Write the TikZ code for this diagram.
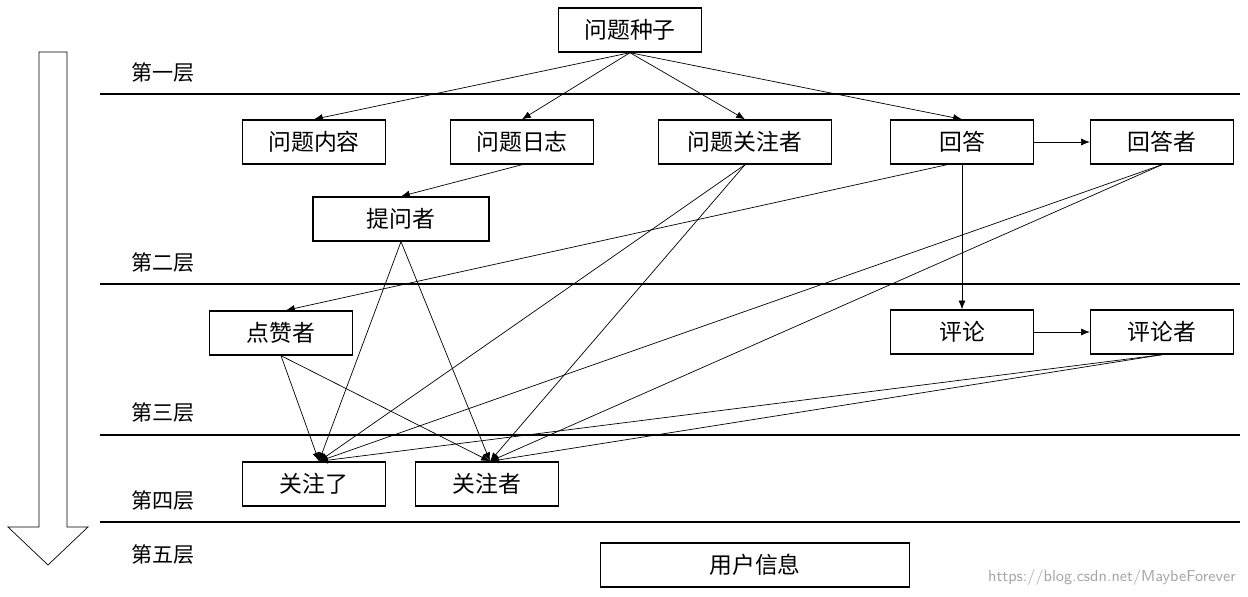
\documentclass[tikz,border=0pt]{standalone}
\usepackage{fontspec}
\newfontfamily\cjk{Noto Sans CJK SC}
\usetikzlibrary{arrows.meta}
\begin{document}
\begin{tikzpicture}[x=0.02cm,y=-0.02cm,
 box/.style={draw,thick,minimum width=2.86cm,minimum height=0.88cm,inner sep=0pt,font=\cjk\fontsize{13}{15}\selectfont},
 lab/.style={font=\cjk\fontsize{12}{14}\selectfont},
 ed/.style={-{Latex[length=5pt,width=4pt]},thin},
 lay/.style={thick}]
\useasboundingbox (0,0) rectangle (1248,596);
\node[box] (seed) at (630,30) {问题种子};
\node[box] (nr) at (314,142) {问题内容};
\node[box] (rz) at (522,142) {问题日志};
\node[box,minimum width=3.46cm] (gz) at (745,142) {问题关注者};
\node[box] (hd) at (962,142) {回答};
\node[box] (hdz) at (1162,142) {回答者};
\node[box,minimum width=3.52cm] (twz) at (401,219) {提问者};
\node[box] (dzz) at (281,333) {点赞者};
\node[box] (pl) at (962,332) {评论};
\node[box] (plz) at (1162,332) {评论者};
\node[box] (gzl) at (314,484) {关注了};
\node[box] (gzz) at (487,484) {关注者};
\node[box,minimum width=6.18cm] (yh) at (755,565) {用户信息};
\foreach \y in {94,284,435,522} \draw[lay] (100,\y) -- (1240,\y);
\node[lab] (l1) at (163,73) {第一层};
\node[lab] (l2) at (163,263) {第二层};
\node[lab] (l3) at (163,413) {第三层};
\node[lab] (l4) at (163,501) {第四层};
\node[lab] (l5) at (163,555) {第五层};
\draw[thin] (39,52) -- (67,52) -- (67,527) -- (88,527) -- (48,565) -- (8,527) -- (39,527) -- cycle;
\node[font=\sffamily\fontsize{9}{10}\selectfont,text=black!35] (wm) at (1112,578) {https://blog.csdn.net/MaybeForever};
\foreach \t in {nr,rz,gz,hd} \draw[ed] (seed.south) -- (\t.north);
\draw[ed] (hd) -- (hdz);
\draw[ed] (rz.south) -- (twz.north);
\draw[ed] ([xshift=-0.3cm]hd.south) -- ([xshift=0.1cm]dzz.north);
\draw[ed] (hd.south) -- (pl.north);
\draw[ed] (pl) -- (plz);
\foreach \s in {twz,gz,hdz,dzz,plz} {
 \draw[ed] (\s.south) -- ([xshift=0.1cm]gzl.north);
 \draw[ed] (\s.south) -- ([xshift=0.06cm]gzz.north);
}
\end{tikzpicture}
\end{document}
